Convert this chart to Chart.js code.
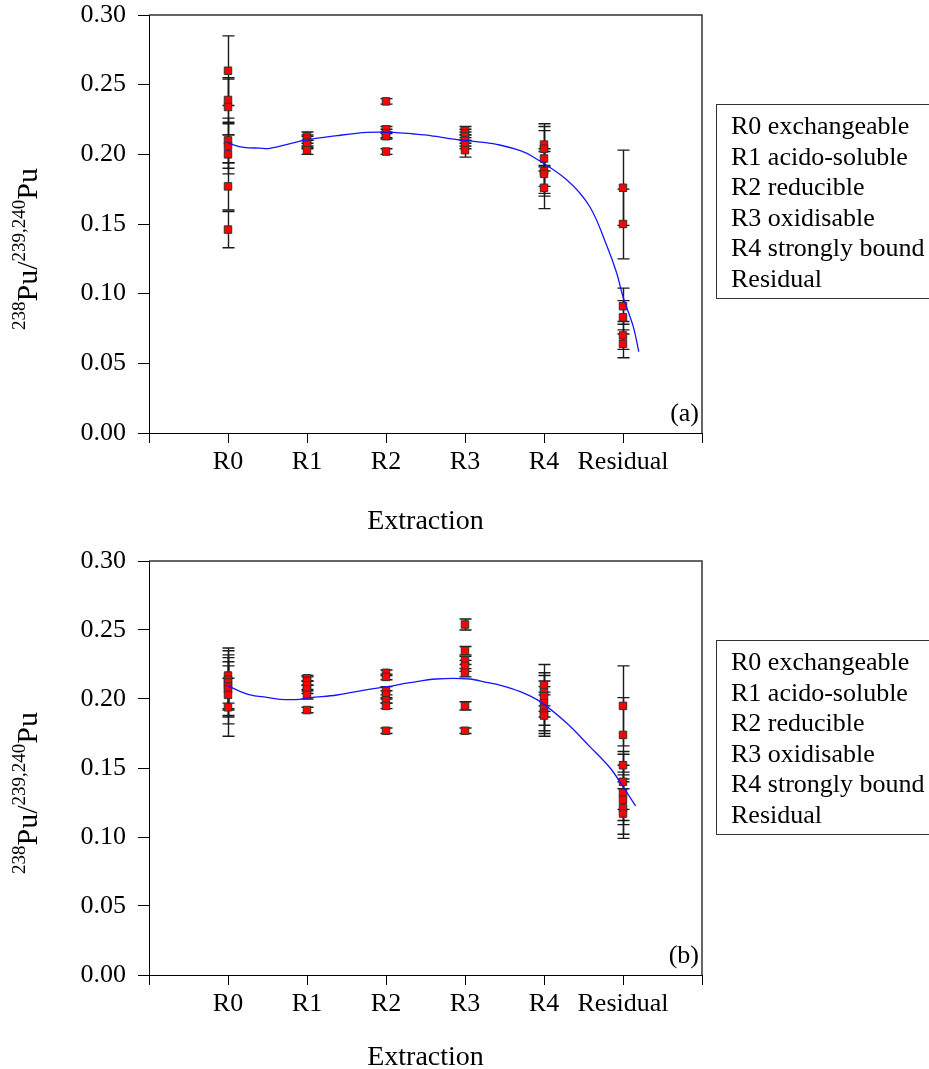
<!DOCTYPE html>
<html>
<head>
<meta charset="utf-8">
<script src="https://cdn.jsdelivr.net/npm/chart.js@4/dist/chart.umd.min.js"></script>
<style>
  html, body { margin: 0; padding: 0; background: #fff; }
  body { width: 929px; height: 1069px; overflow: hidden; position: relative; font-family: "Liberation Serif", "Times New Roman", serif; }
  canvas { position: absolute; left: 0; }
  #chartA { top: 0; }
  #chartB { top: 546px; }
  .legend { position: absolute; left: 716px; width: 260px; border: 1px solid #333; border-right: none;
            padding: 6px 0 4px 14px; font-size: 26px; line-height: 30.5px; color: #000; white-space: nowrap; }
  #legendA { top: 104px; }
  #legendB { top: 640px; }
</style>
</head>
<body>
<canvas id="chartA" width="929" height="560"></canvas>
<canvas id="chartB" width="929" height="560"></canvas>
<div class="legend" id="legendA"></div>
<div class="legend" id="legendB"></div>
<script>
// Extraction steps on the x axis (placed at 1..6 on a 0..7 axis)
const categories = ['R0', 'R1', 'R2', 'R3', 'R4', 'Residual'];
const legendLines = ['R0 exchangeable', 'R1 acido-soluble', 'R2 reducible', 'R3 oxidisable', 'R4 strongly bound', 'Residual'];
const yTicks = [0, 0.05, 0.10, 0.15, 0.20, 0.25, 0.30];

// Panel (a): 238Pu/239,240Pu ratios and their uncertainties per fraction
const a_R0 = [0.260, 0.239, 0.234, 0.210, 0.206, 0.200, 0.177, 0.146];
const a_R0_err = [0.025, 0.016, 0.020, 0.016, 0.016, 0.014, 0.017, 0.013];
const a_R1 = [0.213, 0.211, 0.209, 0.207, 0.203];
const a_R1_err = [0.003, 0.003, 0.004, 0.003, 0.003];
const a_R2 = [0.238, 0.218, 0.215, 0.213, 0.202];
const a_R2_err = [0.002, 0.002, 0.003, 0.002, 0.002];
const a_R3 = [0.217, 0.215, 0.213, 0.210, 0.207, 0.203];
const a_R3_err = [0.003, 0.003, 0.003, 0.004, 0.003, 0.005];
const a_R4 = [0.207, 0.204, 0.197, 0.188, 0.186, 0.176];
const a_R4_err = [0.015, 0.016, 0.020, 0.016, 0.016, 0.015];
const a_Res = [0.176, 0.150, 0.091, 0.083, 0.070, 0.064];
const a_Res_err = [0.027, 0.025, 0.013, 0.012, 0.010, 0.010];

// Panel (a): fitted trend
const a_fitX = [1.0, 1.2, 1.4, 1.53, 1.95, 2.38, 2.76, 3.09, 3.35, 3.56, 3.94, 4.23, 4.44, 4.70, 4.86, 5.29, 5.58, 5.80, 5.92, 6.0, 6.13, 6.20];
const a_fitY = [0.208, 0.205, 0.2045, 0.2043, 0.2098, 0.2134, 0.2158, 0.2158, 0.2146, 0.2134, 0.2103, 0.2086, 0.2067, 0.2026, 0.1983, 0.1816, 0.1624, 0.1337, 0.1148, 0.0978, 0.0763, 0.0584];

// Panel (b)
const b_R0 = [0.217, 0.214, 0.212, 0.209, 0.207, 0.203, 0.194];
const b_R0_err = [0.020, 0.021, 0.020, 0.021, 0.020, 0.021, 0.021];
const b_R1 = [0.215, 0.213, 0.210, 0.207, 0.203, 0.192];
const b_R1_err = [0.002, 0.003, 0.003, 0.003, 0.003, 0.002];
const b_R2 = [0.219, 0.216, 0.206, 0.203, 0.199, 0.195, 0.177];
const b_R2_err = [0.002, 0.002, 0.003, 0.003, 0.002, 0.002, 0.002];
const b_R3 = [0.254, 0.235, 0.228, 0.224, 0.219, 0.195, 0.177];
const b_R3_err = [0.004, 0.003, 0.003, 0.004, 0.003, 0.003, 0.002];
const b_R4 = [0.210, 0.205, 0.202, 0.197, 0.193, 0.190, 0.188];
const b_R4_err = [0.015, 0.014, 0.015, 0.016, 0.016, 0.015, 0.015];
const b_Res = [0.195, 0.174, 0.152, 0.140, 0.132, 0.127, 0.121, 0.117];
const b_Res_err = [0.029, 0.027, 0.010, 0.020, 0.020, 0.018, 0.019, 0.018];

const b_fitX = [1.0, 1.28, 1.49, 1.66, 1.91, 2.04, 2.38, 2.80, 3.01, 3.30, 3.64, 4.06, 4.27, 4.44, 4.70, 4.95, 5.29, 5.58, 5.84, 6.0, 6.16];
const b_fitY = [0.2094, 0.2029, 0.2012, 0.1998, 0.1998, 0.2010, 0.2029, 0.2072, 0.2089, 0.2118, 0.2145, 0.2145, 0.2121, 0.2101, 0.2053, 0.1981, 0.1824, 0.1655, 0.1498, 0.1365, 0.1225];

const FONT = '"Liberation Serif", "Times New Roman", serif';

function buildPoints(groups) {
  const data = [], errors = [];
  groups.forEach((g, i) => {
    g[0].forEach((v, j) => { data.push({ x: i + 1, y: v }); errors.push(g[1][j]); });
  });
  return { data, errors };
}

// Error bars under the markers, frame, panel tag and the y-axis title
const decor = {
  id: 'decor',
  beforeDatasetsDraw(chart) {
    const { ctx, scales: { x, y } } = chart;
    ctx.save();
    ctx.strokeStyle = '#1a1a1a';
    ctx.lineWidth = 1.4;
    chart.data.datasets.forEach(ds => {
      if (!ds.errors) return;
      ds.data.forEach((p, i) => {
        const e = ds.errors[i];
        const px = Math.round(x.getPixelForValue(p.x)) + 0.5;
        const y1 = y.getPixelForValue(p.y + e);
        const y2 = y.getPixelForValue(p.y - e);
        ctx.beginPath();
        ctx.moveTo(px, y1); ctx.lineTo(px, y2);
        ctx.moveTo(px - 6, y1); ctx.lineTo(px + 6, y1);
        ctx.moveTo(px - 6, y2); ctx.lineTo(px + 6, y2);
        ctx.stroke();
      });
    });
    ctx.restore();
  },
  afterDraw(chart, args, opts) {
    const { ctx, chartArea: a } = chart;
    ctx.save();
    // top and right sides of the plot frame
    ctx.strokeStyle = '#333';
    ctx.lineWidth = 1.5;
    ctx.beginPath();
    ctx.moveTo(a.left, a.top); ctx.lineTo(a.right, a.top); ctx.lineTo(a.right, a.bottom);
    ctx.stroke();
    // panel tag
    ctx.fillStyle = '#000';
    ctx.font = '26px ' + FONT;
    ctx.textAlign = 'right';
    ctx.textBaseline = 'alphabetic';
    ctx.fillText(opts.tag, a.right - 3, a.bottom - 12);
    // y-axis title with superscript mass numbers
    const parts = [['238', 19, true], ['Pu/', 30, false], ['239,240', 19, true], ['Pu', 30, false]];
    let total = 0;
    parts.forEach(p => { ctx.font = p[1] + 'px ' + FONT; p.push(ctx.measureText(p[0]).width); total += p[3]; });
    ctx.translate(opts.titleX, (a.top + a.bottom) / 2 + opts.titleShift);
    ctx.rotate(-Math.PI / 2);
    ctx.textAlign = 'left';
    let cx = -total / 2;
    parts.forEach(p => {
      ctx.font = p[1] + 'px ' + FONT;
      ctx.fillText(p[0], cx, p[2] ? -2 : 10);
      cx += p[3];
    });
    ctx.restore();
  }
};

function makeChart(id, groups, fitX, fitY, tag, padTop, axisH, titlePadBottom) {
  const pts = buildPoints(groups);
  const fit = fitX.map((xv, i) => ({ x: xv, y: fitY[i] }));
  return new Chart(document.getElementById(id), {
    type: 'scatter',
    data: {
      datasets: [
        {
          type: 'line', data: fit, borderColor: '#1414ff', borderWidth: 1.3,
          pointRadius: 0, tension: 0.35, fill: false
        },
        {
          data: pts.data, errors: pts.errors, pointStyle: 'rect', pointRadius: 5.3,
          backgroundColor: '#ff0000', borderColor: '#333', borderWidth: 1
        }
      ]
    },
    options: {
      responsive: false,
      animation: false,
      events: [],
      layout: { padding: { top: padTop, right: 227, left: 0, bottom: 0 } },
      plugins: {
        legend: { display: false },
        tooltip: { enabled: false },
        decor: { tag: tag, titleX: 27, titleShift: 25 }
      },
      scales: {
        x: {
          type: 'linear', min: 0, max: 7,
          afterBuildTicks: s => { s.ticks = [0, 1, 2, 3, 4, 5, 6, 7].map(v => ({ value: v })); },
          afterFit: s => { s.height = axisH; s.paddingLeft = 0; s.paddingRight = 0; },
          ticks: {
            autoSkip: false, maxRotation: 0, color: '#000', padding: 4,
            font: { family: FONT, size: 26 },
            callback: v => categories[v - 1] || ''
          },
          grid: { drawOnChartArea: false, drawTicks: true, tickLength: 10, color: '#000' },
          border: { display: true, color: '#000', width: 1 },
          title: {
            display: true, text: 'Extraction', color: '#000',
            font: { family: FONT, size: 28 },
            padding: { top: 0, bottom: titlePadBottom }
          }
        },
        y: {
          type: 'linear', min: 0, max: 0.30,
          afterBuildTicks: s => { s.ticks = yTicks.map(v => ({ value: v })); },
          afterFit: s => { s.width = 149; s.paddingTop = 0; s.paddingBottom = 0; },
          ticks: {
            color: '#000', padding: 12,
            font: { family: FONT, size: 26 },
            callback: v => v.toFixed(2)
          },
          grid: { drawOnChartArea: false, drawTicks: true, tickLength: 11, color: '#000' },
          border: { display: true, color: '#000', width: 1 }
        }
      }
    },
    plugins: [decor]
  });
}

makeChart('chartA',
  [[a_R0, a_R0_err], [a_R1, a_R1_err], [a_R2, a_R2_err], [a_R3, a_R3_err], [a_R4, a_R4_err], [a_Res, a_Res_err]],
  a_fitX, a_fitY, '(a)', 15, 127, 22);
makeChart('chartB',
  [[b_R0, b_R0_err], [b_R1, b_R1_err], [b_R2, b_R2_err], [b_R3, b_R3_err], [b_R4, b_R4_err], [b_Res, b_Res_err]],
  b_fitX, b_fitY, '(b)', 15, 131, 32);

['legendA', 'legendB'].forEach(id => {
  const box = document.getElementById(id);
  legendLines.forEach(t => { const d = document.createElement('div'); d.textContent = t; box.appendChild(d); });
});
</script>
</body>
</html>
